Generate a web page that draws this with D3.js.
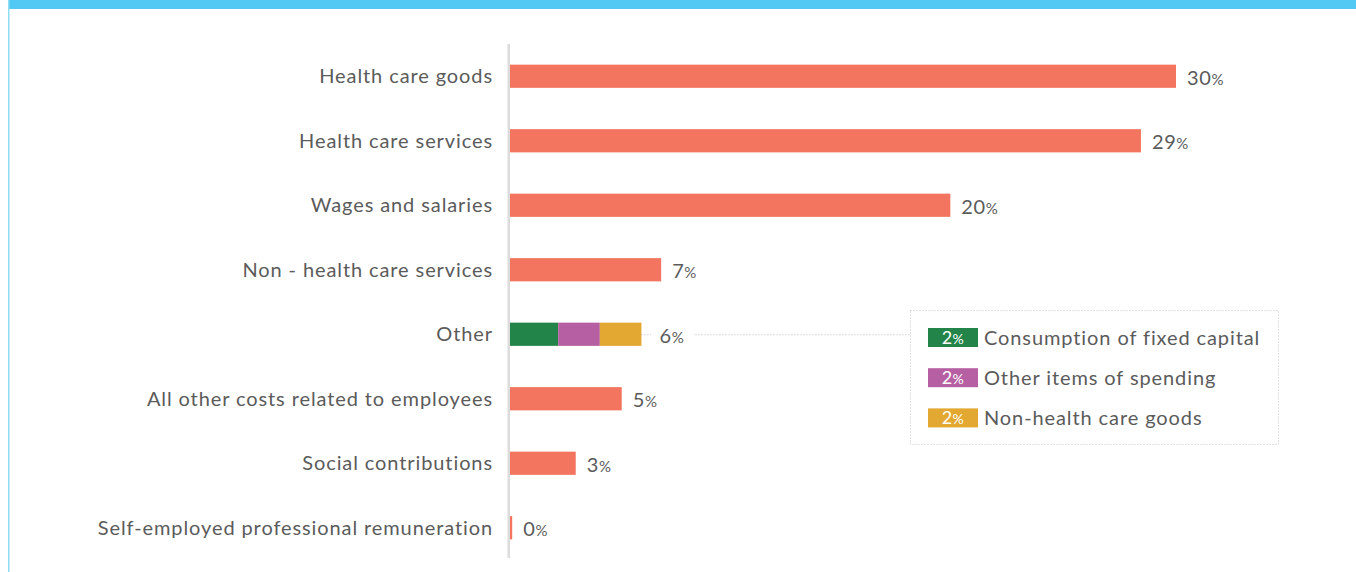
<!DOCTYPE html>
<html>
<head>
<meta charset="utf-8">
<script src="https://cdn.jsdelivr.net/npm/d3@7"></script>
<style>
  html, body { margin: 0; padding: 0; background: #fff; }
  svg { display: block; }
</style>
</head>
<body>
<svg id="chart" width="1356" height="572"></svg>
<script>
// Expenditure categories (share of total, %)
const categories = [
  "Health care goods",
  "Health care services",
  "Wages and salaries",
  "Non - health care services",
  "Other",
  "All other costs related to employees",
  "Social contributions",
  "Self-employed professional remuneration"
];
const values = [30.4, 28.8, 20.1, 6.9, 6.0, 5.1, 3.0, 0.1];

// Breakdown of the "Other" row
const otherLabels = ["Consumption of fixed capital", "Other items of spending", "Non-health care goods"];
const otherValues = [2.2, 1.9, 1.9];
const otherColors = ["#23844a", "#b65fa3", "#e2a831"];

const barColor = "#f37560";
const textColor = "#5b5b5b";
const font = "Lato, 'Open Sans', sans-serif";
const spacing = 0.9;

const svg = d3.select("#chart");
const W = 1356, H = 572;

// Frame: blue band across the top, thin light-blue rule on the left
svg.append("rect").attr("x", 9).attr("y", 0).attr("width", W - 9).attr("height", 9).attr("fill", "#52c9f4");
svg.append("rect").attr("x", 8).attr("y", 0).attr("width", 1.5).attr("height", H).attr("fill", "#8fdcf5");

const x0 = 510;
const x = d3.scaleLinear().domain([0, 30.4]).range([x0, 1176]);
const y = d3.scaleBand().domain(categories).range([44, 560]).paddingInner(0.64).paddingOuter(0.32);

// Category axis
const axis = d3.axisLeft(y).tickSize(0).tickPadding(17);
const gAxis = svg.append("g").attr("transform", `translate(${x0},0)`).call(axis);
gAxis.select(".domain").remove();
gAxis.selectAll("text")
  .attr("font-family", font).attr("font-size", 20).attr("letter-spacing", spacing)
  .attr("fill", textColor).attr("dy", "0.36em");
svg.append("rect").attr("x", 507.5).attr("y", 44).attr("width", 2.5).attr("height", 514).attr("fill", "#dcdcdc");

// Single-colour bars
const rows = categories.map((c, i) => ({ c, v: values[i] }));
const plain = rows.filter(d => d.c !== "Other");
svg.append("g").selectAll("rect").data(plain).join("rect")
  .attr("x", x(0)).attr("y", d => y(d.c))
  .attr("width", d => Math.max(2, x(d.v) - x(0)))
  .attr("height", y.bandwidth())
  .attr("fill", barColor);

// Stacked "Other" bar
let acc = 0;
const segs = otherValues.map((v, i) => { const s = { v, x0: acc, x1: acc + v, color: otherColors[i], label: otherLabels[i] }; acc += v; return s; });
svg.append("g").selectAll("rect").data(segs).join("rect")
  .attr("x", d => x(d.x0)).attr("y", y("Other"))
  .attr("width", d => x(d.x1) - x(d.x0))
  .attr("height", y.bandwidth())
  .attr("fill", d => d.color);

// Legend box, joined to the "Other" bar by a dotted leader
const lg = { x: 910.5, y: 310.5, w: 368, h: 134 };
const otherMid = y("Other") + y.bandwidth() / 2;
svg.append("line")
  .attr("x1", x(acc)).attr("x2", lg.x).attr("y1", otherMid + 0.5).attr("y2", otherMid + 0.5)
  .attr("stroke", "#bdbdbd").attr("stroke-width", 1).attr("stroke-dasharray", "1,2");
svg.append("rect").attr("x", lg.x).attr("y", lg.y).attr("width", lg.w).attr("height", lg.h)
  .attr("fill", "#fff").attr("stroke", "#c4c4c4").attr("stroke-width", 1).attr("stroke-dasharray", "1,2");

const legend = svg.append("g").selectAll("g").data(segs).join("g")
  .attr("transform", (d, i) => `translate(928,${337.5 + i * 40.2})`);
legend.append("rect").attr("x", 0).attr("y", -9.5).attr("width", 50).attr("height", 19).attr("fill", d => d.color);
const sw = legend.append("text").attr("x", 25).attr("y", 6.5).attr("text-anchor", "middle")
  .attr("font-family", font).attr("fill", "#fff").attr("letter-spacing", 0.5);
sw.append("tspan").attr("font-size", 18).text(d => d3.format(".0f")(d.v));
sw.append("tspan").attr("font-size", 14).text("%");
legend.append("text").attr("x", 56).attr("y", 7.5).attr("font-family", font)
  .attr("font-size", 20).attr("letter-spacing", spacing).attr("fill", textColor).text(d => d.label);

// Value labels
const lbl = svg.append("g").selectAll("g").data(rows).join("g")
  .attr("transform", d => `translate(${x(d.v) + (d.c === "Other" ? 18 : 11)},${y(d.c) + y.bandwidth() / 2 + 8.5})`);
lbl.filter(d => d.c === "Other").append("rect")
  .attr("x", -8).attr("y", -20).attr("width", 42).attr("height", 26).attr("fill", "#fff");
const vt = lbl.append("text").attr("font-family", font).attr("fill", textColor).attr("letter-spacing", 0.6);
vt.append("tspan").attr("font-size", 20).text(d => d3.format(".0f")(d.v));
vt.append("tspan").attr("font-size", 15).text("%");
</script>
</body>
</html>
